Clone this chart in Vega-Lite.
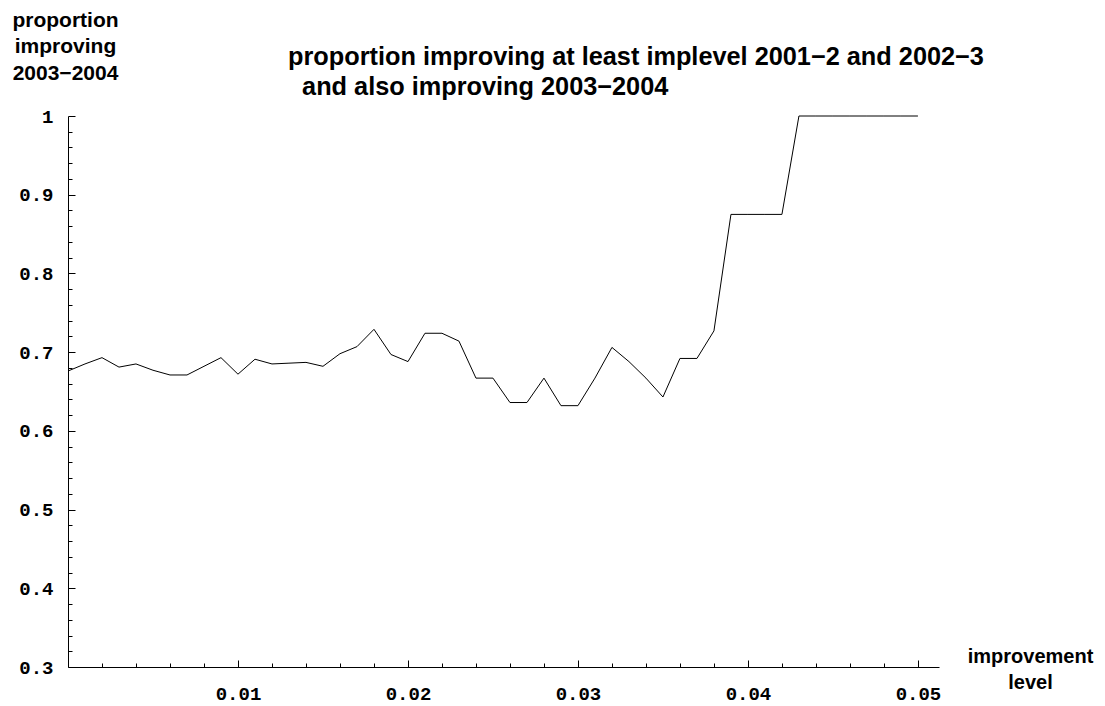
{
  "$schema": "https://vega.github.io/schema/vega-lite/v6.json",
  "width": 871,
  "height": 551,
  "autosize": {"type": "none"},
  "padding": {"left": 68, "top": 116, "right": 166, "bottom": 39},
  "background": "white",
  "config": {
    "view": {"stroke": null},
    "axis": {"grid": false, "domainColor": "black", "tickColor": "black", "labelColor": "black", "titleColor": "black", "domainWidth": 1, "tickWidth": 1, "labelFlush": false, "labelOverlap": false}
  },
  "title": {
    "text": ["proportion improving at least implevel 2001−2 and 2002−3", "\u200b\u00a0\u00a0and also improving 2003−2004"],
    "anchor": "start",
    "frame": "group",
    "dx": 220,
    "dy": 95,
    "font": "Liberation Sans",
    "fontSize": 25.3,
    "fontWeight": "bold",
    "lineHeight": 30,
    "color": "black"
  },
  "data": {
    "values": [
      {"level": 0.000, "proportion": 0.676},
      {"level": 0.001, "proportion": 0.685},
      {"level": 0.002, "proportion": 0.693},
      {"level": 0.003, "proportion": 0.681},
      {"level": 0.004, "proportion": 0.685},
      {"level": 0.005, "proportion": 0.677},
      {"level": 0.006, "proportion": 0.671},
      {"level": 0.007, "proportion": 0.671},
      {"level": 0.008, "proportion": 0.682},
      {"level": 0.009, "proportion": 0.693},
      {"level": 0.010, "proportion": 0.672},
      {"level": 0.011, "proportion": 0.691},
      {"level": 0.012, "proportion": 0.685},
      {"level": 0.013, "proportion": 0.686},
      {"level": 0.014, "proportion": 0.687},
      {"level": 0.015, "proportion": 0.682},
      {"level": 0.016, "proportion": 0.698},
      {"level": 0.017, "proportion": 0.707},
      {"level": 0.018, "proportion": 0.729},
      {"level": 0.019, "proportion": 0.697},
      {"level": 0.020, "proportion": 0.688},
      {"level": 0.021, "proportion": 0.724},
      {"level": 0.022, "proportion": 0.724},
      {"level": 0.023, "proportion": 0.714},
      {"level": 0.024, "proportion": 0.667},
      {"level": 0.025, "proportion": 0.667},
      {"level": 0.026, "proportion": 0.636},
      {"level": 0.027, "proportion": 0.636},
      {"level": 0.028, "proportion": 0.667},
      {"level": 0.029, "proportion": 0.632},
      {"level": 0.030, "proportion": 0.632},
      {"level": 0.031, "proportion": 0.667},
      {"level": 0.032, "proportion": 0.706},
      {"level": 0.033, "proportion": 0.688},
      {"level": 0.034, "proportion": 0.667},
      {"level": 0.035, "proportion": 0.643},
      {"level": 0.036, "proportion": 0.692},
      {"level": 0.037, "proportion": 0.692},
      {"level": 0.038, "proportion": 0.727},
      {"level": 0.039, "proportion": 0.875},
      {"level": 0.040, "proportion": 0.875},
      {"level": 0.041, "proportion": 0.875},
      {"level": 0.042, "proportion": 0.875},
      {"level": 0.043, "proportion": 1.0},
      {"level": 0.044, "proportion": 1.0},
      {"level": 0.045, "proportion": 1.0},
      {"level": 0.046, "proportion": 1.0},
      {"level": 0.047, "proportion": 1.0},
      {"level": 0.048, "proportion": 1.0},
      {"level": 0.049, "proportion": 1.0},
      {"level": 0.050, "proportion": 1.0}
    ]
  },
  "layer": [
    {
      "mark": {"type": "line", "color": "black", "strokeWidth": 1},
      "encoding": {
        "x": {
          "field": "level", "type": "quantitative",
          "scale": {"domain": [0, 0.05124], "nice": false, "zero": false},
          "axis": {
            "orient": "bottom",
            "values": [0.01, 0.02, 0.03, 0.04, 0.05],
            "format": ".2f",
            "tickSize": -7,
            "labelPadding": 24,
            "labelFont": "Liberation Mono",
            "labelFontWeight": "bold",
            "labelFontSize": 19,
            "title": ["improvement", "level"],
            "titleFont": "Liberation Sans",
            "titleFontSize": 20,
            "titleFontWeight": "bold",
            "titleAlign": "center",
            "titleBaseline": "top",
            "titleLineHeight": 26,
            "titleX": 962,
            "titleY": -21
          }
        },
        "y": {
          "field": "proportion", "type": "quantitative",
          "scale": {"domain": [0.3, 1], "nice": false, "zero": false},
          "axis": {
            "orient": "left",
            "values": [0.3, 0.4, 0.5, 0.6, 0.7, 0.8, 0.9, 1],
            "format": ".1~f",
            "tickSize": -7,
            "labelPadding": 22,
            "labelFont": "Liberation Mono",
            "labelFontWeight": "bold",
            "labelFontSize": 19,
            "title": ["proportion", "improving", "2003−2004"],
            "titleFont": "Liberation Sans",
            "titleFontSize": 21,
            "titleFontWeight": "bold",
            "titleAngle": 0,
            "titleAlign": "center",
            "titleBaseline": "top",
            "titleLineHeight": 26.5,
            "titleX": -3,
            "titleY": -107
          }
        }
      }
    },
    {
      "mark": {"type": "line", "opacity": 0},
      "encoding": {
        "x": {
          "field": "level", "type": "quantitative",
          "axis": {
            "orient": "bottom",
            "values": [0.002, 0.004, 0.006, 0.008, 0.012, 0.014, 0.016, 0.018, 0.022, 0.024, 0.026, 0.028, 0.032, 0.034, 0.036, 0.038, 0.042, 0.044, 0.046, 0.048],
            "tickSize": -4,
            "labels": false,
            "domain": false,
            "title": null
          }
        },
        "y": {
          "field": "proportion", "type": "quantitative",
          "axis": {
            "orient": "left",
            "values": [0.32, 0.34, 0.36, 0.38, 0.42, 0.44, 0.46, 0.48, 0.52, 0.54, 0.56, 0.58, 0.62, 0.64, 0.66, 0.68, 0.72, 0.74, 0.76, 0.78, 0.82, 0.84, 0.86, 0.88, 0.92, 0.94, 0.96, 0.98],
            "tickSize": -4,
            "labels": false,
            "domain": false,
            "title": null
          }
        }
      }
    }
  ],
  "resolve": {"axis": {"x": "independent", "y": "independent"}}
}
